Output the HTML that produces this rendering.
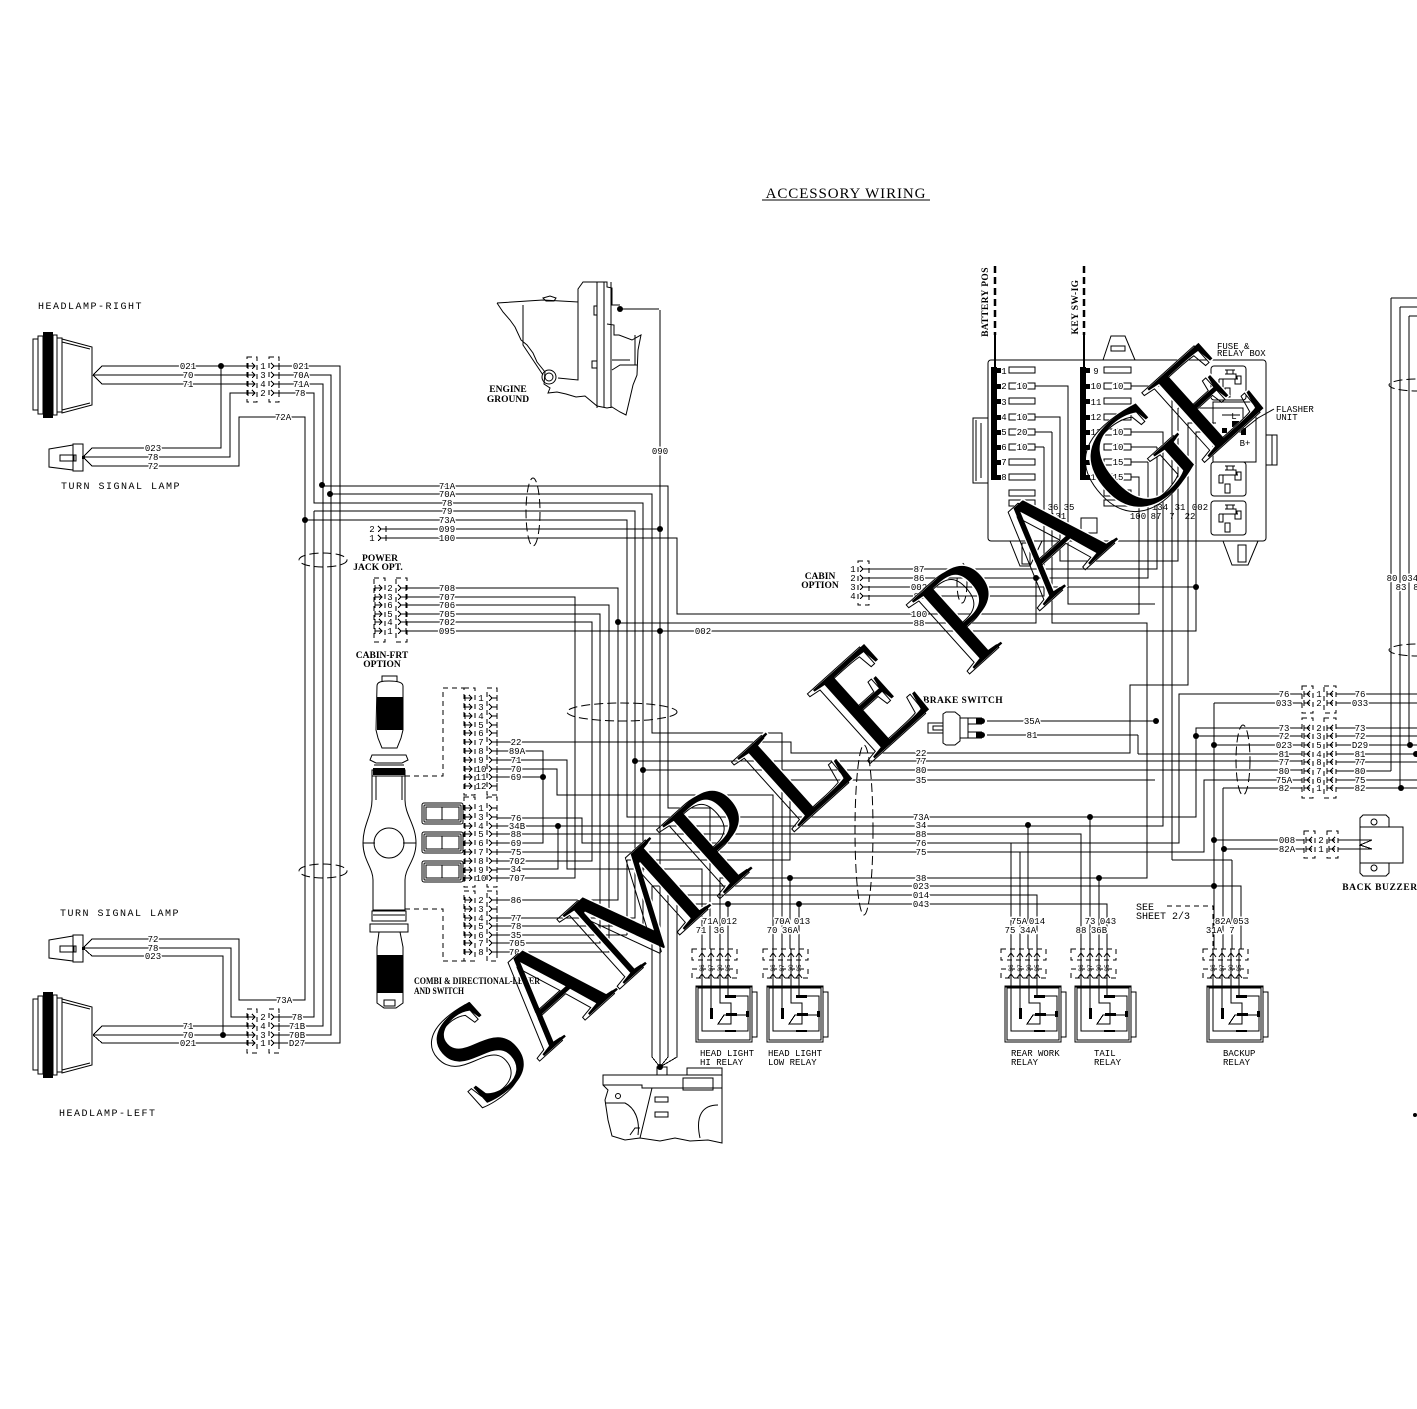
<!DOCTYPE html>
<html><head><meta charset="utf-8"><title>Accessory Wiring</title>
<style>
html,body{margin:0;padding:0;background:#fff}
svg{display:block}
.w{fill:none;stroke:#000;stroke-width:1;shape-rendering:crispEdges}
.s{fill:none;stroke:#000;stroke-width:1}
.d{fill:none;stroke:#000;stroke-width:1;stroke-dasharray:5 4;shape-rendering:crispEdges}
.e{fill:none;stroke:#000;stroke-width:1;stroke-dasharray:9 4}
.k{fill:#000;stroke:none}
text{font-family:"Liberation Mono",monospace;font-size:9.5px;fill:#000}
.t{text-anchor:middle;paint-order:stroke;stroke:#fff;stroke-width:3px;stroke-linejoin:round;font-size:9px}
.n{text-anchor:middle;font-size:9px}
.l{font-size:10px;letter-spacing:1.5px}
.b{font-family:"Liberation Serif",serif;font-weight:bold;font-size:9.5px;text-anchor:middle}
.m{font-size:9px}
</style></head><body>
<svg xmlns="http://www.w3.org/2000/svg" width="1417" height="1409" viewBox="0 0 1417 1409">
<defs>
<path id="p" class="w" d="M0 -3V3M0 0H7M4 -3L7 0L4 3"/>
<path id="q" class="w" d="M0 -3L3 0L0 3M3 0H8M8 -3V3"/>
<path id="r" class="w" d="M0 -3V3M0 0H6M6 -3L3 0L6 3"/>
<g id="lamp">
<path class="s" d="M33 339H38V410H33ZM38 336H43V414H38ZM53 335H57V415H53ZM57 338H62V412H57ZM62 339L92 347V405L62 413ZM62 342L90 349M62 410L90 403"/>
<rect class="k" x="43" y="332" width="10" height="86"/>
</g>
<g id="small">
<path class="s" d="M49 449L73 445V470L49 467ZM73 444H83V471H73ZM60 455H74V461H60ZM74 455H76V461H74Z"/>
<rect class="k" x="82" y="456" width="3" height="3"/>
</g>
<g id="relay">
<path class="w" d="M6 -37V0M15 -37V0M24 -37V0M32 -37V0"/>
<rect class="d" x="-4" y="-37" width="45" height="11" fill="none"/>
<rect class="d" x="-4" y="-17" width="45" height="9" fill="none"/>
<path class="s" d="M3 -29L6 -33L9 -29M12 -29L15 -33L18 -29M21 -29L24 -33L27 -29M29 -29L32 -33L35 -29M3 -8L6 -12L9 -8M12 -8L15 -12L18 -8M21 -8L24 -12L27 -8M29 -8L32 -12L35 -8"/>
<text class="n" style="font-size:6px" transform="translate(8,-18) rotate(-90)">86</text>
<text class="n" style="font-size:6px" transform="translate(17,-18) rotate(-90)">87</text>
<text class="n" style="font-size:6px" transform="translate(26,-18) rotate(-90)">30</text>
<text class="n" style="font-size:6px" transform="translate(34,-18) rotate(-90)">85</text>
<rect class="w" x="0" y="0" width="56" height="56"/>
<rect class="w" x="2" y="2" width="52" height="52"/>
<path class="w" d="M0 1H56M56 6H61V51H56"/>
<path class="w" d="M6 0V45H52V10H32V0M15 0V22M24 0V17H35V38H22L28 29H50"/>
<rect class="k" x="14" y="22" width="3" height="11"/>
<rect class="k" x="29" y="9" width="11" height="3"/>
<rect class="k" x="30" y="27" width="11" height="3"/>
<rect class="k" x="29" y="44" width="11" height="2"/>
<rect class="k" x="50" y="25" width="3" height="6"/>
</g>
<g id="sock">
<rect class="s" x="0" y="0" width="35" height="34" rx="3"/>
<path class="w" d="M14 4H24M16 4V8H22V4M14 8H25V13M8 13H27M8 13V21H12V13M24 13V18H30V10H26V13M14 22H19V31H14Z"/>
</g>
<g id="sw">
<rect class="s" x="0" y="0" width="41" height="21" rx="2"/>
<rect class="s" x="2" y="2" width="37" height="17" rx="1"/>
<rect class="w" x="4" y="4" width="33" height="13"/>
<path class="w" d="M20 4V17"/>
</g>
</defs>

<!-- Title -->
<text x="846" y="198" style="font-family:'Liberation Serif',serif;font-size:15px;text-anchor:middle;letter-spacing:.9px">ACCESSORY WIRING</text>
<path class="w" d="M762 200H930"/>

<!-- Lamps -->
<use href="#lamp"/>
<use href="#lamp" y="660"/>
<use href="#small"/>
<use href="#small" y="491"/>

<!-- Main wiring -->
<path class="w" d="
M93 375L102 366H247M93 375H247M93 375L102 384H247
M221 366V448H92L83 457H230V393H247M83 457L92 466H239V417H305V1000H239V939H92L83 948H231V1017H247M83 948L92 956H223V1035
M279 366H340V1043H279M279 375H331V1035H279M279 384H323V1026H279M279 393H314V503H496M314 511V1017H279
M93 1035L102 1026H247M93 1035H247M93 1035L102 1043H247
M322 486H668V808H710V949M330 494H652V733H782V949M314 503H643V926H497M314 511H635V918H497M305 520H627V817H1196V728H1302
M386 529H660M386 538H677V614H1139V477H1131
M660 310V1057L660 1067
M407 588H618V900H497M407 597H575V878H497M407 605H609V952H497M407 614H600V943H497M407 622H592V861H497M407 631H1196V432H1216
M618 623H1036V578M1052 432V623H1147V878H720V949M627 935H497M627 860V935M627 860H790V780H1155
M497 742H791V753H1130V685H1188V423H1216
M497 751H543V843H497M497 760H567V869H702V949M497 769H557V795H773V949M497 777H543
M497 818H582V843H1179V694H1302M497 826H1163V432H1131M497 834H1081V949M497 852H1204V780H1302M497 869H558V826
M643 770H1302M635 761H1302M1155 604H1068V386H1035
M1011 843V949M1020 852V949M1028 825V949M1090 817V949M1099 878V949
M728 904V949M799 904V949M790 878V949
M652 886H1241V949M668 895H1037V949M677 904H1107V949
M652 886V1057L660 1067M668 895V1057L660 1067M677 904V1057L660 1067
M1214 703V949M1223 788V949M1232 860V949M1172 860H1232M1172 386V860M1131 386H1172
M1214 703H1302M1223 788H1302M1196 736H1302M1214 745H1302M1138 754H1302M1138 735V754M987 735H1138M987 721H1156M1157 447H1131M1157 447V569H863M1148 462H1131M1148 462V578H863
M1178 408H1216M1178 408V561H1060V417H1035M1052 432H1035M1044 447H1035M1044 447V596H863M863 587H1196
M1214 840H1304M1223 849H1304M1338 840H1372M1338 849H1372M1372 840L1360 845L1372 849
M1336 694H1417M1336 703H1417M1336 728H1417M1336 736H1417M1336 745H1417M1336 754H1417M1336 762H1417M1336 771H1391M1336 780H1417M1336 788H1417
M1391 298V771M1400 307V788M1409 316V745M1391 298H1417M1400 307H1417M1409 316H1417
M860 566L863 569L860 572M860 575L863 578L860 581M860 584L863 587L860 590M860 593L863 596L860 599
"/>

<!-- Junctions -->
<g class="k">
<circle cx="221" cy="366" r="3"/><circle cx="322" cy="485" r="3"/><circle cx="330" cy="494" r="3"/><circle cx="305" cy="520" r="3"/><circle cx="223" cy="1035" r="3"/>
<circle cx="660" cy="529" r="3"/><circle cx="660" cy="631" r="3"/><circle cx="618" cy="622" r="3"/>
<circle cx="635" cy="761" r="3"/><circle cx="643" cy="770" r="3"/><circle cx="543" cy="777" r="3"/><circle cx="558" cy="826" r="3"/>
<circle cx="728" cy="904" r="3"/><circle cx="799" cy="904" r="3"/><circle cx="790" cy="878" r="3"/><circle cx="1028" cy="825" r="3"/><circle cx="1090" cy="817" r="3"/><circle cx="1099" cy="878" r="3"/>
<circle cx="1214" cy="886" r="3"/><circle cx="1214" cy="745" r="3"/><circle cx="1214" cy="840" r="3"/><circle cx="1224" cy="849" r="3"/><circle cx="1196" cy="736" r="3"/>
<circle cx="1156" cy="721" r="3"/><circle cx="982" cy="721" r="3"/><circle cx="982" cy="735" r="3"/><circle cx="1196" cy="587" r="3"/><circle cx="1036" cy="578" r="3"/>
<circle cx="1410" cy="745" r="3"/><circle cx="1401" cy="788" r="3"/><circle cx="1416" cy="754" r="3"/><circle cx="660" cy="1067" r="3"/><circle cx="620" cy="309" r="3"/><circle cx="1415" cy="1115" r="2"/>
</g>

<!-- Dashed bundles -->
<ellipse class="e" cx="323" cy="560" rx="24" ry="7"/>
<ellipse class="e" cx="323" cy="871" rx="24" ry="7"/>
<ellipse class="e" cx="533" cy="512" rx="7" ry="34"/>
<ellipse class="e" cx="622" cy="712" rx="55" ry="9"/>
<ellipse class="e" cx="1243" cy="760" rx="7" ry="35"/>
<ellipse class="e" cx="864" cy="830" rx="9" ry="85"/>
<ellipse class="e" cx="962" cy="583" rx="5" ry="20"/>
<ellipse class="e" cx="1417" cy="385" rx="28" ry="6"/>
<ellipse class="e" cx="1417" cy="650" rx="28" ry="6"/>

<!-- Connector boxes -->
<g class="d">
<rect x="247" y="357" width="10" height="45"/><rect x="269" y="357" width="10" height="45"/>
<rect x="247" y="1009" width="10" height="44"/><rect x="269" y="1009" width="10" height="44"/>
<rect x="374" y="578" width="11" height="64"/><rect x="396" y="578" width="11" height="64"/>
<rect x="464" y="688" width="11" height="107"/><rect x="487" y="688" width="10" height="107"/>
<rect x="464" y="797" width="11" height="90"/><rect x="487" y="797" width="10" height="90"/>
<rect x="464" y="891" width="11" height="70"/><rect x="487" y="891" width="10" height="70"/>
<rect x="858" y="561" width="11" height="44"/>
<rect x="1302" y="686" width="11" height="27"/><rect x="1324" y="686" width="12" height="27"/>
<rect x="1302" y="718" width="11" height="80"/><rect x="1324" y="718" width="12" height="80"/>
<rect x="1304" y="831" width="11" height="27"/><rect x="1327" y="831" width="11" height="27"/>
<path d="M405 776H443V688H464M405 909H443V961H464"/>
</g>

<!-- Pin glyphs -->
<g>
<use href="#p" x="248" y="366"/><use href="#p" x="248" y="375"/><use href="#p" x="248" y="384"/><use href="#p" x="248" y="393"/>
<use href="#q" x="271" y="366"/><use href="#q" x="271" y="375"/><use href="#q" x="271" y="384"/><use href="#q" x="271" y="393"/>
<use href="#p" x="248" y="1017"/><use href="#p" x="248" y="1026"/><use href="#p" x="248" y="1035"/><use href="#p" x="248" y="1043"/>
<use href="#q" x="271" y="1017"/><use href="#q" x="271" y="1026"/><use href="#q" x="271" y="1035"/><use href="#q" x="271" y="1043"/>
<use href="#p" x="375" y="588"/><use href="#p" x="375" y="597"/><use href="#p" x="375" y="605"/><use href="#p" x="375" y="614"/><use href="#p" x="375" y="622"/><use href="#p" x="375" y="631"/>
<use href="#q" x="398" y="588"/><use href="#q" x="398" y="597"/><use href="#q" x="398" y="605"/><use href="#q" x="398" y="614"/><use href="#q" x="398" y="622"/><use href="#q" x="398" y="631"/>
<use href="#p" x="465" y="698"/><use href="#p" x="465" y="707"/><use href="#p" x="465" y="716"/><use href="#p" x="465" y="725"/><use href="#p" x="465" y="733"/><use href="#p" x="465" y="742"/><use href="#p" x="465" y="751"/><use href="#p" x="465" y="760"/><use href="#p" x="465" y="769"/><use href="#p" x="465" y="777"/><use href="#p" x="465" y="786"/>
<use href="#q" x="489" y="698"/><use href="#q" x="489" y="707"/><use href="#q" x="489" y="716"/><use href="#q" x="489" y="725"/><use href="#q" x="489" y="733"/><use href="#q" x="489" y="742"/><use href="#q" x="489" y="751"/><use href="#q" x="489" y="760"/><use href="#q" x="489" y="769"/><use href="#q" x="489" y="777"/><use href="#q" x="489" y="786"/>
<use href="#p" x="465" y="808"/><use href="#p" x="465" y="817"/><use href="#p" x="465" y="826"/><use href="#p" x="465" y="834"/><use href="#p" x="465" y="843"/><use href="#p" x="465" y="852"/><use href="#p" x="465" y="861"/><use href="#p" x="465" y="870"/><use href="#p" x="465" y="878"/>
<use href="#q" x="489" y="808"/><use href="#q" x="489" y="817"/><use href="#q" x="489" y="826"/><use href="#q" x="489" y="834"/><use href="#q" x="489" y="843"/><use href="#q" x="489" y="852"/><use href="#q" x="489" y="861"/><use href="#q" x="489" y="870"/><use href="#q" x="489" y="878"/>
<use href="#p" x="465" y="900"/><use href="#p" x="465" y="909"/><use href="#p" x="465" y="918"/><use href="#p" x="465" y="926"/><use href="#p" x="465" y="935"/><use href="#p" x="465" y="943"/><use href="#p" x="465" y="952"/>
<use href="#q" x="489" y="900"/><use href="#q" x="489" y="909"/><use href="#q" x="489" y="918"/><use href="#q" x="489" y="926"/><use href="#q" x="489" y="935"/><use href="#q" x="489" y="943"/><use href="#q" x="489" y="952"/>
<use href="#q" x="378" y="529"/><use href="#q" x="378" y="538"/>
<use href="#r" x="1304" y="694"/><use href="#r" x="1304" y="703"/><use href="#r" x="1327" y="694"/><use href="#r" x="1327" y="703"/>
<use href="#r" x="1304" y="728"/><use href="#r" x="1304" y="736"/><use href="#r" x="1304" y="745"/><use href="#r" x="1304" y="754"/><use href="#r" x="1304" y="762"/><use href="#r" x="1304" y="771"/><use href="#r" x="1304" y="780"/><use href="#r" x="1304" y="788"/>
<use href="#r" x="1327" y="728"/><use href="#r" x="1327" y="736"/><use href="#r" x="1327" y="745"/><use href="#r" x="1327" y="754"/><use href="#r" x="1327" y="762"/><use href="#r" x="1327" y="771"/><use href="#r" x="1327" y="780"/><use href="#r" x="1327" y="788"/>
<use href="#r" x="1306" y="840"/><use href="#r" x="1306" y="849"/><use href="#r" x="1329" y="840"/><use href="#r" x="1329" y="849"/>
</g>

<!-- Pin numbers -->
<g>
<text class="n" x="263" y="369">1</text><text class="n" x="263" y="378">3</text><text class="n" x="263" y="387">4</text><text class="n" x="263" y="396">2</text>
<text class="n" x="263" y="1020">2</text><text class="n" x="263" y="1029">4</text><text class="n" x="263" y="1038">3</text><text class="n" x="263" y="1046">1</text>
<text class="n" x="390" y="591">2</text><text class="n" x="390" y="600">3</text><text class="n" x="390" y="608">6</text><text class="n" x="390" y="617">5</text><text class="n" x="390" y="625">4</text><text class="n" x="390" y="634">1</text>
<text class="n" x="481" y="701">1</text><text class="n" x="481" y="710">3</text><text class="n" x="481" y="719">4</text><text class="n" x="481" y="728">5</text><text class="n" x="481" y="736">6</text><text class="n" x="481" y="745">7</text><text class="n" x="481" y="754">8</text><text class="n" x="481" y="763">9</text><text class="n" x="481" y="772">10</text><text class="n" x="481" y="780">11</text><text class="n" x="481" y="789">12</text>
<text class="n" x="481" y="811">1</text><text class="n" x="481" y="820">3</text><text class="n" x="481" y="829">4</text><text class="n" x="481" y="837">5</text><text class="n" x="481" y="846">6</text><text class="n" x="481" y="855">7</text><text class="n" x="481" y="864">8</text><text class="n" x="481" y="873">9</text><text class="n" x="481" y="881">10</text>
<text class="n" x="481" y="903">2</text><text class="n" x="481" y="912">3</text><text class="n" x="481" y="921">4</text><text class="n" x="481" y="929">5</text><text class="n" x="481" y="938">6</text><text class="n" x="481" y="946">7</text><text class="n" x="481" y="955">8</text>
<text class="n" x="853" y="572">1</text><text class="n" x="853" y="581">2</text><text class="n" x="853" y="590">3</text><text class="n" x="853" y="599">4</text>
<text class="n" x="372" y="532">2</text><text class="n" x="372" y="541">1</text>
<text class="n" x="1319" y="697">1</text><text class="n" x="1319" y="706">2</text>
<text class="n" x="1319" y="731">2</text><text class="n" x="1319" y="739">3</text><text class="n" x="1319" y="748">5</text><text class="n" x="1319" y="757">4</text><text class="n" x="1319" y="765">8</text><text class="n" x="1319" y="774">7</text><text class="n" x="1319" y="783">6</text><text class="n" x="1319" y="791">1</text>
<text class="n" x="1321" y="843">2</text><text class="n" x="1321" y="852">1</text>
</g>

<!-- Wire labels -->
<g>
<text class="t" x="188" y="369">021</text><text class="t" x="188" y="378">70</text><text class="t" x="188" y="387">71</text>
<text class="t" x="301" y="369">021</text><text class="t" x="301" y="378">70A</text><text class="t" x="301" y="387">71A</text><text class="t" x="300" y="396">78</text>
<text class="t" x="283" y="420">72A</text>
<text class="t" x="153" y="451">023</text><text class="t" x="153" y="460">78</text><text class="t" x="153" y="469">72</text>
<text class="t" x="153" y="942">72</text><text class="t" x="153" y="951">78</text><text class="t" x="153" y="959">023</text>
<text class="t" x="284" y="1003">73A</text>
<text class="t" x="188" y="1029">71</text><text class="t" x="188" y="1038">70</text><text class="t" x="188" y="1046">021</text>
<text class="t" x="297" y="1020">78</text><text class="t" x="297" y="1029">71B</text><text class="t" x="297" y="1038">70B</text><text class="t" x="297" y="1046">D27</text>
<text class="t" x="447" y="489">71A</text><text class="t" x="447" y="497">70A</text><text class="t" x="447" y="506">78</text><text class="t" x="447" y="514">79</text><text class="t" x="447" y="523">73A</text><text class="t" x="447" y="532">099</text><text class="t" x="447" y="541">100</text>
<text class="t" x="447" y="591">708</text><text class="t" x="447" y="600">707</text><text class="t" x="447" y="608">706</text><text class="t" x="447" y="617">705</text><text class="t" x="447" y="625">702</text><text class="t" x="447" y="634">095</text>
<text class="t" x="660" y="454">090</text>
<text class="t" x="703" y="634">002</text>
<text class="t" x="516" y="745">22</text><text class="t" x="517" y="754">89A</text><text class="t" x="516" y="763">71</text><text class="t" x="516" y="772">70</text><text class="t" x="516" y="780">69</text>
<text class="t" x="516" y="821">76</text><text class="t" x="517" y="829">34B</text><text class="t" x="516" y="837">88</text><text class="t" x="516" y="846">69</text><text class="t" x="516" y="855">75</text><text class="t" x="517" y="864">702</text><text class="t" x="516" y="872">34</text><text class="t" x="517" y="881">707</text>
<text class="t" x="516" y="903">86</text><text class="t" x="516" y="921">77</text><text class="t" x="516" y="929">78</text><text class="t" x="516" y="938">35</text><text class="t" x="517" y="946">705</text><text class="t" x="517" y="955">706</text>
<text class="t" x="919" y="572">87</text><text class="t" x="919" y="581">86</text><text class="t" x="919" y="590">002</text><text class="t" x="919" y="599">88</text>
<text class="t" x="919" y="617">100</text><text class="t" x="919" y="626">88</text>
<text class="t" x="1032" y="724">35A</text><text class="t" x="1032" y="738">81</text>
<text class="t" x="921" y="756">22</text><text class="t" x="921" y="764">77</text><text class="t" x="921" y="773">80</text><text class="t" x="921" y="783">35</text>
<text class="t" x="921" y="820">73A</text><text class="t" x="921" y="828">34</text><text class="t" x="921" y="837">88</text><text class="t" x="921" y="846">76</text><text class="t" x="921" y="855">75</text>
<text class="t" x="921" y="881">38</text><text class="t" x="921" y="889">023</text><text class="t" x="921" y="898">014</text><text class="t" x="921" y="907">043</text>
<text class="t" x="1284" y="697">76</text><text class="t" x="1284" y="706">033</text>
<text class="t" x="1284" y="731">73</text><text class="t" x="1284" y="739">72</text><text class="t" x="1284" y="748">023</text><text class="t" x="1284" y="757">81</text><text class="t" x="1284" y="765">77</text><text class="t" x="1284" y="774">80</text><text class="t" x="1284" y="783">75A</text><text class="t" x="1284" y="791">82</text>
<text class="t" x="1360" y="697">76</text><text class="t" x="1360" y="706">033</text>
<text class="t" x="1360" y="731">73</text><text class="t" x="1360" y="739">72</text><text class="t" x="1360" y="748">D29</text><text class="t" x="1360" y="757">81</text><text class="t" x="1360" y="765">77</text><text class="t" x="1360" y="774">80</text><text class="t" x="1360" y="783">75</text><text class="t" x="1360" y="791">82</text>
<text class="t" x="1287" y="843">008</text><text class="t" x="1287" y="852">82A</text>
<text class="t" x="710" y="924">71A</text><text class="t" x="729" y="924">012</text><text class="t" x="701" y="933">71</text><text class="t" x="719" y="933">36</text>
<text class="t" x="782" y="924">70A</text><text class="t" x="802" y="924">013</text><text class="t" x="772" y="933">70</text><text class="t" x="790" y="933">36A</text>
<text class="t" x="1019" y="924">75A</text><text class="t" x="1037" y="924">014</text><text class="t" x="1010" y="933">75</text><text class="t" x="1028" y="933">34A</text>
<text class="t" x="1090" y="924">73</text><text class="t" x="1108" y="924">043</text><text class="t" x="1081" y="933">88</text><text class="t" x="1099" y="933">36B</text>
<text class="t" x="1223" y="924">82A</text><text class="t" x="1241" y="924">053</text><text class="t" x="1214" y="933">31A</text><text class="t" x="1232" y="933">7</text>
<text class="t" x="1392" y="581">80</text><text class="t" x="1410" y="581">034</text><text class="t" x="1401" y="590">83</text><text class="t" x="1416" y="590">8</text>
</g>

<!-- Combi switch -->
<path class="s" d="M382 682V676H397V682M377 686C377 682 381 681 389 681C397 681 403 682 403 686V730L401 738L397 748H382L378 738L376 730ZM372 755H406L408 760L402 763H376L370 760ZM374 765H404M372 770H405V776H372ZM372 776V800C372 815 363 825 363 843C363 860 373 868 373 880V910H405V880C405 868 416 860 416 843C416 825 405 815 405 800V776M376 776V800M402 776V800M363 843H375M403 843H416M373 915H405M372 911H406V921H372ZM370 924H408V932H370ZM379 932H400L403 947V1003L396 1008H384L377 1003V947ZM384 1000H395V1006H384Z"/>
<circle class="s" cx="389" cy="843" r="15"/>
<rect class="k" x="377" y="697" width="26" height="33"/>
<rect class="k" x="373" y="768" width="32" height="7"/>
<rect class="k" x="377" y="955" width="26" height="38"/>
<use href="#sw" x="422" y="803"/><use href="#sw" x="422" y="832"/><use href="#sw" x="422" y="861"/>

<!-- Engine ground -->
<path class="s" d="M497 303L543 300L578 302V289L583 282H607V287L612 288V305H620M497 303L503 312L510 320L515 327L521 340L527 345L533 353L537 362L545 372L544 384L550 388L548 393L557 392L566 394L576 397L585 396L597 406L607 408L612 407L620 412L626 415L630 398L633 385L637 375L638 350L641 335L632 340L619 335H614V325L607 324M578 302V380L558 378M597 282V408M604 282V408M611 282V408M523 305V345L543 375M594 306H597V315H594ZM592 361H597V368H592ZM612 370L620 365H637M612 360H630M635 335V365"/>
<circle class="s" cx="549" cy="377" r="7"/>
<circle class="s" cx="549" cy="377" r="4"/>
<path class="s" d="M543 298L546 301H554L556 298L550 296Z"/>
<path class="w" d="M620 309H659"/>

<!-- Chassis ground -->
<path class="s" d="M603 1075H722V1143L708 1140L690 1141L675 1138L660 1141L640 1138L625 1140L612 1136L608 1120L605 1100L608 1090L603 1085ZM657 1075V1067H667V1075M687 1075V1068H722V1075M603 1085H642V1088H652M652 1088H722M652 1088L640 1138M655 1097H668V1102H655ZM655 1112H668V1117H655ZM605 1103H625C635 1108 640 1120 638 1135M700 1138C695 1115 703 1105 718 1105M630 1135L635 1128H640M683 1078H713V1090H683Z"/>
<circle class="s" cx="618" cy="1096" r="2.5"/>

<!-- Fuse box -->
<rect class="s" x="988" y="360" width="278" height="181" rx="3"/>
<path class="s" d="M1103 360L1111 336H1125L1135 360M1111 346H1125V351H1111ZM1010 541L1020 566H1030L1042 541M1022 543H1030V564H1022ZM1223 541L1232 565H1248L1258 541M1238 545H1246V562H1238ZM988 418H973V483H988M976 420V481M981 423V478M1266 435H1277V465H1266M1272 435V465"/>
<rect class="k" x="991" y="367" width="6" height="113"/>
<rect class="k" x="1080" y="367" width="6" height="113"/>
<g class="k">
<rect x="997" y="368" width="4" height="5"/><rect x="997" y="384" width="4" height="5"/><rect x="997" y="399" width="4" height="5"/><rect x="997" y="415" width="4" height="5"/><rect x="997" y="430" width="4" height="5"/><rect x="997" y="445" width="4" height="5"/><rect x="997" y="460" width="4" height="5"/><rect x="997" y="475" width="4" height="5"/>
<rect x="1086" y="368" width="4" height="5"/><rect x="1086" y="384" width="4" height="5"/><rect x="1086" y="399" width="4" height="5"/><rect x="1086" y="415" width="4" height="5"/><rect x="1086" y="430" width="4" height="5"/><rect x="1086" y="445" width="4" height="5"/><rect x="1086" y="460" width="4" height="5"/><rect x="1086" y="475" width="4" height="5"/>
</g>
<g class="w">
<rect x="1009" y="367" width="26" height="6"/><rect x="1009" y="383" width="26" height="6"/><rect x="1009" y="398" width="26" height="6"/><rect x="1009" y="414" width="26" height="6"/><rect x="1009" y="429" width="26" height="6"/><rect x="1009" y="444" width="26" height="6"/><rect x="1009" y="459" width="26" height="6"/><rect x="1009" y="474" width="26" height="6"/><rect x="1009" y="490" width="26" height="6"/><rect x="1009" y="500" width="26" height="6"/>
<rect x="1104" y="367" width="27" height="6"/><rect x="1104" y="383" width="27" height="6"/><rect x="1104" y="398" width="27" height="6"/><rect x="1104" y="414" width="27" height="6"/><rect x="1104" y="429" width="27" height="6"/><rect x="1104" y="444" width="27" height="6"/><rect x="1104" y="459" width="27" height="6"/><rect x="1104" y="474" width="27" height="6"/><rect x="1104" y="490" width="27" height="6"/><rect x="1104" y="500" width="27" height="6"/>
<rect x="1081" y="518" width="16" height="15"/>
</g>
<g>
<text class="n" x="1004" y="374">1</text><text class="n" x="1004" y="389">2</text><text class="n" x="1004" y="405">3</text><text class="n" x="1004" y="420">4</text><text class="n" x="1004" y="435">5</text><text class="n" x="1004" y="450">6</text><text class="n" x="1004" y="465">7</text><text class="n" x="1004" y="480">8</text>
<text class="n" x="1096" y="374">9</text><text class="n" x="1096" y="389">10</text><text class="n" x="1096" y="405">11</text><text class="n" x="1096" y="420">12</text><text class="n" x="1096" y="435">13</text><text class="n" x="1096" y="450">14</text><text class="n" x="1096" y="465">15</text><text class="n" x="1096" y="480">16</text>
<text class="t" x="1022" y="389">10</text><text class="t" x="1022" y="420">10</text><text class="t" x="1022" y="435">20</text><text class="t" x="1022" y="450">10</text>
<text class="t" x="1118" y="389">10</text><text class="t" x="1118" y="435">10</text><text class="t" x="1118" y="450">10</text><text class="t" x="1118" y="465">15</text><text class="t" x="1118" y="480">15</text>
<text class="n" x="1053" y="510">36</text><text class="n" x="1069" y="510">35</text><text class="n" x="1058" y="519">131</text>
<text class="n" x="1160" y="510">134</text><text class="n" x="1180" y="510">31</text><text class="n" x="1200" y="510">002</text>
<text class="n" x="1138" y="519">100</text><text class="n" x="1156" y="519">87</text><text class="n" x="1172" y="519">7</text><text class="n" x="1190" y="519">22</text>
</g>
<use href="#sock" x="1211" y="366"/>
<use href="#sock" x="1211" y="462"/>
<use href="#sock" x="1211" y="501"/>
<path class="s" d="M1213 402H1256V462H1213ZM1216 408H1243V432H1238M1222 415H1240"/>
<rect class="k" x="1232" y="421" width="7" height="6"/>
<rect class="k" x="1241" y="428" width="5" height="7"/>
<rect class="k" x="1222" y="428" width="5" height="5"/>
<text class="n" x="1234" y="419">L</text>
<text class="n" x="1245" y="446">B+</text>
<path class="s" d="M1243 430L1258 418L1274 409"/>
<text class="m" x="1217" y="349">FUSE &amp;</text>
<text class="m" x="1217" y="356">RELAY BOX</text>
<text class="m" x="1276" y="412">FLASHER</text>
<text class="m" x="1276" y="420">UNIT</text>

<!-- Feeds -->
<path d="M995 266V335" fill="none" stroke="#000" stroke-width="2.5" stroke-dasharray="7 4"/>
<path d="M995 335V367" fill="none" stroke="#000" stroke-width="2"/>
<path d="M1084 266V335" fill="none" stroke="#000" stroke-width="2.5" stroke-dasharray="7 4"/>
<path d="M1084 335V367" fill="none" stroke="#000" stroke-width="2"/>
<text class="b" transform="translate(988,302) rotate(-90)" style="letter-spacing:.4px">BATTERY POS</text>
<text class="b" transform="translate(1078,307) rotate(-90)" style="letter-spacing:.4px">KEY SW-IG</text>

<!-- Brake switch -->
<path class="s" d="M928 723H943V733H928ZM933 726H943V730H933ZM943 714L946 712H955L960 716V741L955 745H946L943 743ZM960 718H968V738H960M968 718H982M968 724H982M968 732H982M968 738H982"/>
<rect class="k" x="976" y="718" width="5" height="6"/>
<rect class="k" x="976" y="732" width="5" height="6"/>

<!-- Back buzzer -->
<path class="s" d="M1360 827H1403V863H1360ZM1360 827V818L1363 815H1386L1389 818V827M1360 863V873L1363 876H1386L1389 873V863"/>
<circle class="s" cx="1374" cy="822" r="3"/><circle class="s" cx="1374" cy="868" r="3"/>
<text class="b" x="1380" y="890" style="letter-spacing:.6px">BACK BUZZER</text>

<!-- Relays -->
<use href="#relay" x="696" y="986"/>
<use href="#relay" x="767" y="986"/>
<use href="#relay" x="1005" y="986"/>
<use href="#relay" x="1075" y="986"/>
<use href="#relay" x="1207" y="986"/>

<text class="m" x="700" y="1056">HEAD LIGHT</text><text class="m" x="700" y="1065">HI RELAY</text>
<text class="m" x="768" y="1056">HEAD LIGHT</text><text class="m" x="768" y="1065">LOW RELAY</text>
<text class="m" x="1011" y="1056">REAR WORK</text><text class="m" x="1011" y="1065">RELAY</text>
<text class="m" x="1094" y="1056">TAIL</text><text class="m" x="1094" y="1065">RELAY</text>
<text class="m" x="1223" y="1056">BACKUP</text><text class="m" x="1223" y="1065">RELAY</text>

<!-- Big labels -->
<text class="l" x="38" y="309">HEADLAMP-RIGHT</text>
<text class="l" x="61" y="489">TURN SIGNAL LAMP</text>
<text class="l" x="60" y="916">TURN SIGNAL LAMP</text>
<text class="l" x="59" y="1116">HEADLAMP-LEFT</text>
<text class="b" x="508" y="392">ENGINE</text><text class="b" x="508" y="402">GROUND</text>
<text class="b" x="380" y="561">POWER</text><text class="b" x="378" y="570">JACK OPT.</text>
<text class="b" x="382" y="658">CABIN-FRT</text><text class="b" x="382" y="667">OPTION</text>
<text class="b" x="414" y="984" style="text-anchor:start;font-size:9px" textLength="126" lengthAdjust="spacingAndGlyphs">COMBI &amp; DIRECTIONAL-LEVER</text>
<text class="b" x="414" y="994" style="text-anchor:start;font-size:9px" textLength="50" lengthAdjust="spacingAndGlyphs">AND SWITCH</text>
<text class="b" x="820" y="579">CABIN</text><text class="b" x="820" y="588">OPTION</text>
<text class="b" x="963" y="703" style="letter-spacing:.4px">BRAKE SWITCH</text>
<text x="1136" y="910" style="font-size:10px">SEE</text>
<text x="1136" y="919" style="font-size:10px">SHEET 2/3</text>
<path class="d" d="M1167 906H1213V949"/>

<!-- Watermark -->
<g transform="translate(543,1058) rotate(-42)">
<text x="-82 0 105 239 340 442 560 575 673 792 892" y="0" style="font-family:'Liberation Serif',serif;font-size:143px;fill:#000;stroke:#fff;stroke-width:1.5px">SAMPLE PAGE</text>
<text x="-88 -6 99 233 334 436 560 569 667 786 886" y="0" style="font-family:'Liberation Serif',serif;font-size:143px;fill:none;stroke:#000;stroke-width:1px">SAMPLE PAGE</text>
</g>
</svg>
</body></html>
